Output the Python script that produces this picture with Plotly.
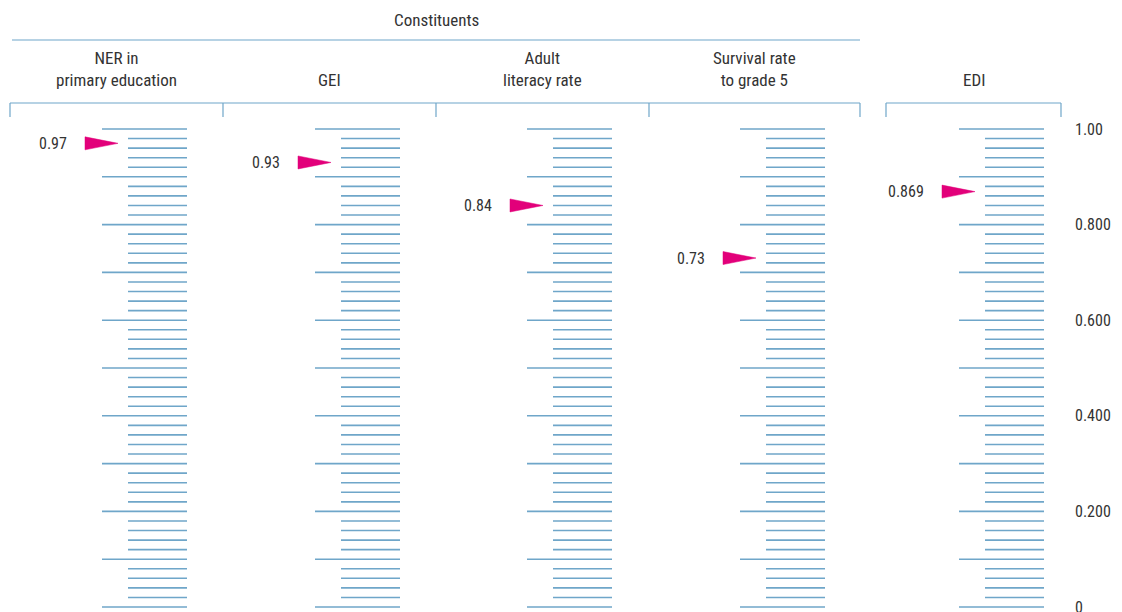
import plotly.graph_objects as go

# ---- data ----
categories = ["NER in<br>primary education", "GEI", "Adult<br>literacy rate",
              "Survival rate<br>to grade 5", "EDI"]
values = [0.97, 0.93, 0.84, 0.73, 0.869]
value_labels = ["0.97", "0.93", "0.84", "0.73", "0.869"]
group_title = "Constituents"
scale_ticks = [0, 0.2, 0.4, 0.6, 0.8, 1.0]
scale_tick_labels = ["0", "0.200", "0.400", "0.600", "0.800", "1.00"]
minor_step = 0.02
major_step = 0.1

# ---- layout / style ----
W, H = 1122, 612
OFF = 8                    # page body margin offset
PX_PER_UNIT = 478.0
Y_TOP_PX = 129.0 - OFF     # plot row of value 1.0
LINE = "#6fa6c9"
ARROW = "#e2007a"
TXT = "#333333"
FONT = "Liberation Sans Narrow, Roboto Condensed, Arial Narrow, Liberation Sans, sans-serif"
FS_HEAD = 17
FS_VAL = 16

bracket_left = [10, 223, 436, 649, 886]
bracket_right = [223, 436, 649, 860, 1061]
ladder_left = [102, 315, 527, 740, 959]


def px(pix):
    return pix - OFF


def py(pix):
    """convert a reference pixel row into y-axis units"""
    return 1.0 + (Y_TOP_PX - (pix - OFF)) / PX_PER_UNIT


fig = go.Figure()

# ladders
n_steps = int(round(1.0 / minor_step))
lx, ly = [], []
for xl in ladder_left:
    for i in range(n_steps + 1):
        v = i * minor_step
        r = v / major_step
        is_major = abs(r - round(r)) < 1e-6
        x0 = xl if is_major else xl + 26
        lx += [px(x0), px(xl + 85), None]
        ly += [v, v, None]
fig.add_trace(go.Scatter(x=lx, y=ly, mode="lines",
                         line=dict(color=LINE, width=1.6),
                         hoverinfo="skip", showlegend=False))

# arrows + value labels
half_h = 6.5 / PX_PER_UNIT
for xl, v, lab in zip(ladder_left, values, value_labels):
    tip = px(xl + 16)
    base = tip - 33
    fig.add_trace(go.Scatter(x=[base, tip, base, base], y=[v + half_h, v, v - half_h, v + half_h],
                             mode="lines", fill="toself", fillcolor=ARROW,
                             line=dict(color=ARROW, width=0.5),
                             hoverinfo="skip", showlegend=False))
    fig.add_annotation(x=base - 16, y=v, xref="x", yref="y", text=lab,
                       showarrow=False, xanchor="right", yanchor="middle",
                       font=dict(family=FONT, size=FS_VAL, color=TXT))

# brackets
shapes = []
BL = dict(color=LINE, width=1.2)
shapes.append(dict(type="line", xref="x", yref="y", x0=px(12), x1=px(bracket_right[3]),
                   y0=py(40), y1=py(40), line=BL))
fig.add_annotation(x=px((12 + bracket_right[3]) / 2), y=py(20), xref="x", yref="y",
                   text=group_title, showarrow=False, xanchor="center", yanchor="middle",
                   font=dict(family=FONT, size=FS_HEAD, color=TXT))
shapes.append(dict(type="line", xref="x", yref="y", x0=px(bracket_left[0]), x1=px(bracket_right[3]),
                   y0=py(103), y1=py(103), line=BL))
for xv in bracket_left[:4] + [bracket_right[3]]:
    shapes.append(dict(type="line", xref="x", yref="y", x0=px(xv), x1=px(xv),
                       y0=py(103), y1=py(117), line=BL))
shapes.append(dict(type="line", xref="x", yref="y", x0=px(bracket_left[4]), x1=px(bracket_right[4]),
                   y0=py(103), y1=py(103), line=BL))
for xv in [bracket_left[4], bracket_right[4]]:
    shapes.append(dict(type="line", xref="x", yref="y", x0=px(xv), x1=px(xv),
                       y0=py(103), y1=py(117), line=BL))

for cat, l, r in zip(categories, bracket_left, bracket_right):
    fig.add_annotation(x=px((l + r) / 2), y=py(92), xref="x", yref="y", text=cat,
                       showarrow=False, xanchor="center", yanchor="bottom",
                       font=dict(family=FONT, size=FS_HEAD, color=TXT))

PLOT_W = 1066
fig.update_layout(
    width=W, height=H,
    margin=dict(l=0, r=W - PLOT_W, t=0, b=0),
    paper_bgcolor="white", plot_bgcolor="white",
    shapes=shapes,
    showlegend=False,
    xaxis=dict(range=[0, PLOT_W], visible=False, fixedrange=True),
    yaxis=dict(range=[1.0 + (Y_TOP_PX - H) / PX_PER_UNIT, 1.0 + Y_TOP_PX / PX_PER_UNIT],
               side="right", showgrid=False, zeroline=False,
               showline=False, tickvals=scale_ticks, ticktext=scale_tick_labels,
               ticks="", ticklabelstandoff=0,
               tickfont=dict(family=FONT, size=FS_VAL, color=TXT), fixedrange=True),
)

fig.write_html("out.html")
